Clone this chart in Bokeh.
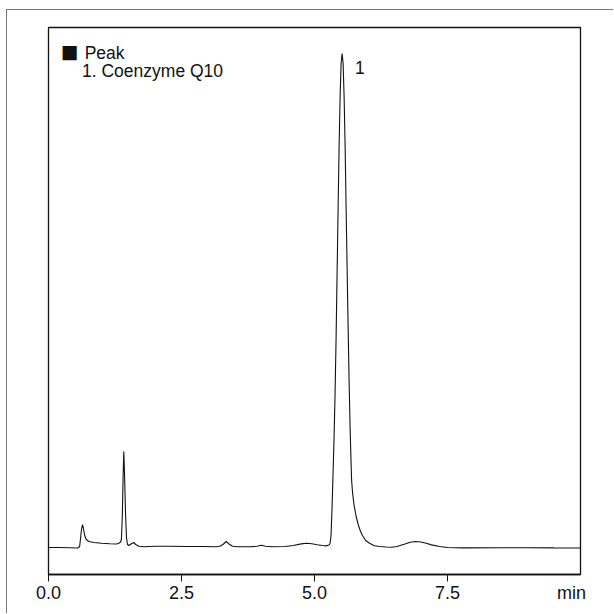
from bokeh.plotting import figure
from bokeh.models import Label, FixedTicker, Range1d, LinearAxis
from bokeh.embed import file_html
from bokeh.resources import INLINE

# Chromatogram trace (time in min, signal in arbitrary units)
time_min = [0.00, 0.20, 0.40, 0.55, 0.585, 0.60, 0.62, 0.64, 0.66, 0.68, 0.71, 0.76, 0.85,
            1.00, 1.15, 1.28, 1.33, 1.355, 1.37, 1.387, 1.402, 1.415, 1.430, 1.447, 1.466,
            1.485, 1.51, 1.55, 1.60, 1.64, 1.70, 1.80, 2.00, 2.30, 2.60, 2.90, 3.15, 3.22,
            3.28, 3.34, 3.40, 3.46, 3.55, 3.80, 3.92, 4.00, 4.08, 4.20, 4.45, 4.60, 4.75,
            4.85, 4.95, 5.05, 5.15, 5.217, 5.274, 5.292, 5.311, 5.330, 5.349, 5.368, 5.387,
            5.406, 5.425, 5.444, 5.462, 5.481, 5.500, 5.519, 5.538, 5.557, 5.576, 5.594,
            5.613, 5.632, 5.651, 5.670, 5.689, 5.698, 5.717, 5.745, 5.783, 5.821, 5.859,
            5.896, 5.962, 6.028, 6.113, 6.217, 6.349, 6.45, 6.55, 6.70, 6.80, 6.90, 7.00,
            7.10, 7.20, 7.35, 7.50, 7.80, 8.50, 9.00, 9.50, 10.00]
signal = [0, 0, -0.3, -0.5, 1, 8, 18, 23, 18, 12, 8, 6, 5,
          4.2, 3.8, 3.5, 4.5, 5.5, 8, 30, 70, 96, 72, 35, 10,
          3, 2, 3.5, 5, 3, 1.2, 0.8, 1.2, 1.2, 1.0, 1.0, 0.8, 1.2,
          3, 6, 3.2, 1.2, 0.8, 0.8, 1.2, 2.2, 1.2, 0.8, 1, 2, 3.6,
          4.2, 3.8, 2.8, 2, 1.6, 2.5, 4, 12, 40, 75, 110, 155,
          210, 275, 340, 400, 450, 484, 494, 484, 450, 400, 340,
          280, 220, 165, 118, 82, 67, 54, 42, 31, 23, 17,
          12.5, 7, 4.5, 2, 1, 0.5, 0.3, 1, 3.5, 5.2, 6, 5.5,
          4.2, 2.6, 1, 0, -0.4, -0.3, -0.2, -0.4, -0.5]

x_ticks = [0, 2.5, 5.0, 7.5]
x_tick_labels = ["0.0", "2.5", "5.0", "7.5"]
x_unit = "min"
x_unit_pos = 9.83
legend_title = "Peak"
peak_names = ["1. Coenzyme Q10"]
peak_ids = ["1"]

FONT = "Liberation Sans"
INK = "#111111"

p = figure(width=607, height=604, output_backend="svg", toolbar_location=None,
           x_range=Range1d(0, 10), y_range=Range1d(-27, 520),
           min_border_left=41, min_border_right=34, min_border_top=17, min_border_bottom=40)
p.styles = {"border-left": "1px solid #777", "border-top": "1px solid #777",
            "margin-left": "6px", "margin-top": "9px"}

p.line(time_min, signal, line_color=INK, line_width=1.1)

p.grid.visible = False
p.yaxis.visible = False
p.outline_line_color = INK
p.outline_line_width = 1.3
p.background_fill_color = "white"
p.border_fill_color = "white"

# primary axis: line and ticks only
ax = p.xaxis[0]
ax.ticker = FixedTicker(ticks=x_ticks)
ax.major_label_overrides = {t: "" for t in x_ticks}
ax.minor_tick_line_color = None
ax.major_tick_out = 7
ax.major_tick_in = 0
ax.major_tick_line_color = INK
ax.axis_line_color = INK
ax.axis_line_width = 1.3
ax.major_label_text_font_size = "1px"
ax.major_label_standoff = 0

# secondary axis below it: tick labels plus the unit
lab_ticks = x_ticks + [x_unit_pos]
lab_axis = LinearAxis(ticker=FixedTicker(ticks=lab_ticks),
                      major_label_overrides={t: s for t, s in zip(lab_ticks, x_tick_labels + [x_unit])})
lab_axis.axis_line_color = None
lab_axis.major_tick_line_color = None
lab_axis.minor_tick_line_color = None
lab_axis.major_tick_out = 0
lab_axis.major_tick_in = 0
lab_axis.major_label_text_font = FONT
lab_axis.major_label_text_font_size = "18px"
lab_axis.major_label_text_color = INK
lab_axis.major_label_standoff = 1
p.add_layout(lab_axis, "below")

# legend box text
p.add_layout(Label(x=0.23, y=496.5, text="■", text_font="DejaVu Sans", text_font_size="18.5px",
                   text_color=INK, text_align="left", text_baseline="middle"))
p.add_layout(Label(x=0.68, y=495, text=legend_title, text_font=FONT, text_font_size="17.5px",
                   text_color=INK, text_align="left", text_baseline="alphabetic"))
p.add_layout(Label(x=0.63, y=477, text=peak_names[0], text_font=FONT, text_font_size="17.5px",
                   text_color=INK, text_align="left", text_baseline="alphabetic"))
p.add_layout(Label(x=5.76, y=480, text=peak_ids[0], text_font=FONT, text_font_size="17.5px",
                   text_color=INK, text_align="left", text_baseline="alphabetic"))

open("out.html", "w").write(file_html(p, INLINE))
